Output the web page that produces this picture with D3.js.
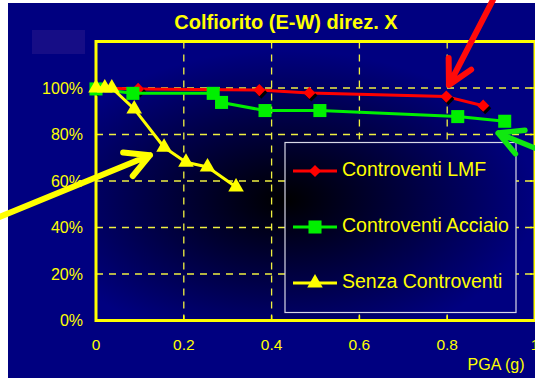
<!DOCTYPE html>
<html><head><meta charset="utf-8">
<script src="https://cdn.jsdelivr.net/npm/d3@7"></script>
<style>html,body{margin:0;padding:0;background:#fff;overflow:hidden}svg{display:block}</style>
</head><body><svg id="c" width="535" height="378"></svg>
<script>
// ---- data ----
const chartTitle = "Colfiorito (E-W) direz. X";
const xAxisTitle = "PGA (g)";
const seriesNames = ["Controventi LMF", "Controventi Acciaio", "Senza Controventi"];
const lmfPGA = [0, 0.096, 0.372, 0.486, 0.798, 0.882];
const lmfVal = [1.0, 0.996, 0.991, 0.979, 0.963, 0.924];
const acciaioPGA = [0, 0.084, 0.267, 0.286, 0.385, 0.51, 0.824, 0.931];
const acciaioVal = [0.996, 0.977, 0.977, 0.938, 0.903, 0.903, 0.877, 0.857];
const senzaPGA = [0, 0.02, 0.036, 0.087, 0.155, 0.205, 0.254, 0.319];
const senzaVal = [1.0, 1.0, 1.0, 0.91, 0.745, 0.681, 0.66, 0.574];
const xTickValues = [0, 0.2, 0.4, 0.6, 0.8, 1];
const xTickLabels = ["0", "0.2", "0.4", "0.6", "0.8", "1"];
const yTickValues = [0, 0.2, 0.4, 0.6, 0.8, 1.0];
const yTickLabels = ["0%", "20%", "40%", "60%", "80%", "100%"];
// annotation arrows (tail -> tip), in data units
const arrowTails = [[0.904, 1.378], [1.011, 0.733], [-0.23, 0.437]];
const arrowTips = [[0.804, 1.013], [0.916, 0.806], [0.123, 0.711]];

const colors = ["#ff0000", "#00f000", "#ffff00"];
const arrowColors = ["#ff0a0a", "#10e810", "#ffff00"];
const YEL = "#ffff00";
const FONT = "'Liberation Sans', Arial, Helvetica, sans-serif";

const svg = d3.select("#c");
const x = d3.scaleLinear().domain([0, 1]).range([96, 535]);
const y = d3.scaleLinear().domain([0, 1.2]).range([320.5, 41.5]);

// gradient
const defs = svg.append("defs");
const grad = defs.append("radialGradient").attr("id", "bg")
  .attr("gradientUnits", "userSpaceOnUse")
  .attr("cx", 0).attr("cy", 0).attr("r", 1)
  .attr("gradientTransform", "translate(285,200) scale(250,150)");
grad.append("stop").attr("offset", 0).attr("stop-color", "#000000");
grad.append("stop").attr("offset", 1).attr("stop-color", "#000080");

// page background
svg.append("rect").attr("x", 0).attr("y", 0).attr("width", 535).attr("height", 378).attr("fill", "#ffffff");
svg.append("rect").attr("x", 8).attr("y", 3).attr("width", 527).attr("height", 375).attr("fill", "#000080");
svg.append("rect").attr("x", 32).attr("y", 30).attr("width", 53).attr("height", 24).attr("fill", "#160d86");

// plot area
const [x0, x1] = x.range();
const [yb, yt] = y.range();
svg.append("rect").attr("x", x0).attr("y", yt).attr("width", x1 - x0).attr("height", yb - yt).attr("fill", "url(#bg)");

// gridlines
const grid = svg.append("g").attr("stroke", "#f0f040").attr("stroke-width", 1.3).attr("stroke-dasharray", "7,6");
grid.selectAll("line.v").data(xTickValues.filter(d => d > 0 && d < 1)).join("line")
  .attr("x1", d => x(d)).attr("x2", d => x(d)).attr("y1", yt).attr("y2", yb);
grid.selectAll("line.h").data(yTickValues.filter(d => d > 0)).join("line")
  .attr("x1", x0).attr("x2", x1).attr("y1", d => y(d)).attr("y2", d => y(d));

// ticks (inward)
const ticks = svg.append("g").attr("stroke", YEL).attr("stroke-width", 1.5);
ticks.selectAll("line.b").data(xTickValues).join("line")
  .attr("x1", d => x(d)).attr("x2", d => x(d)).attr("y1", yb).attr("y2", yb - 5);
ticks.selectAll("line.r").data(yTickValues).join("line")
  .attr("x1", x1).attr("x2", x1 - 5).attr("y1", d => y(d)).attr("y2", d => y(d));

// legend box
const lg = svg.append("g");
lg.append("rect").attr("x", 285).attr("y", 142.5).attr("width", 231).attr("height", 170)
  .attr("fill", "url(#bg)").attr("stroke", "#d8d8e8").attr("stroke-width", 1.2);

// frame
svg.append("rect").attr("x", x0).attr("y", yt).attr("width", x1 - x0).attr("height", yb - yt)
  .attr("fill", "none").attr("stroke", YEL).attr("stroke-width", 3);

// axis labels
svg.append("g").selectAll("text").data(xTickValues).join("text")
  .attr("x", d => x(d)).attr("y", 350).attr("text-anchor", "middle")
  .attr("font-family", FONT).attr("font-size", 15.5).attr("fill", YEL)
  .text((d, i) => xTickLabels[i]);
svg.append("g").selectAll("text").data(yTickValues).join("text")
  .attr("x", 83).attr("y", d => y(d) + 5.5).attr("text-anchor", "end")
  .attr("font-family", FONT).attr("font-size", 16).attr("fill", YEL)
  .text((d, i) => yTickLabels[i]);
svg.append("text").attr("x", 496).attr("y", 369.5).attr("text-anchor", "middle")
  .attr("font-family", FONT).attr("font-size", 16).attr("fill", YEL).text(xAxisTitle);
svg.append("text").attr("x", 286).attr("y", 29).attr("text-anchor", "middle")
  .attr("font-family", FONT).attr("font-size", 20).attr("font-weight", "bold").attr("fill", YEL).text(chartTitle);

// series
const series = [
  { name: seriesNames[0], xs: lmfPGA, ys: lmfVal, color: colors[0], sym: "diamond" },
  { name: seriesNames[1], xs: acciaioPGA, ys: acciaioVal, color: colors[1], sym: "square" },
  { name: seriesNames[2], xs: senzaPGA, ys: senzaVal, color: colors[2], sym: "triangle" }
];
const symGen = {
  diamond: d3.symbol().type(d3.symbolSquare).size(74)(),
  square: d3.symbol().type(d3.symbolSquare).size(170)(),
  triangle: d3.symbol().type(d3.symbolTriangle).size(105)()
};
const rot = s => s === "diamond" ? " rotate(45)" : "";
const line = d3.line().x(d => x(d[0])).y(d => y(d[1]));

series.forEach(s => {
  const pts = s.xs.map((v, i) => [v, s.ys[i]]);
  const g = svg.append("g");
  g.append("path").datum(pts).attr("d", line).attr("fill", "none")
    .attr("stroke", s.color).attr("stroke-width", 3).attr("stroke-linejoin", "round");
  if (s.sym === "diamond") {
    g.selectAll("path.sh").data(pts).join("path").attr("class", "sh")
      .attr("d", symGen[s.sym]).attr("fill", "#000")
      .attr("transform", d => `translate(${x(d[0]) + 2},${y(d[1]) + 2.5})${rot(s.sym)}`);
  }
  g.selectAll("path.mk").data(pts).join("path").attr("class", "mk")
    .attr("d", symGen[s.sym]).attr("fill", s.color)
    .attr("transform", d => `translate(${x(d[0])},${y(d[1])})${rot(s.sym)}`);
});

// legend entries
const legY = [171, 227, 283];
series.forEach((s, i) => {
  lg.append("line").attr("x1", 293).attr("x2", 337).attr("y1", legY[i]).attr("y2", legY[i])
    .attr("stroke", s.color).attr("stroke-width", 3);
  lg.append("path").attr("d", symGen[s.sym]).attr("fill", s.color)
    .attr("transform", `translate(315,${legY[i]})${rot(s.sym)}`);
  lg.append("text").attr("x", 342).attr("y", legY[i] + 5).attr("font-family", FONT)
    .attr("font-size", 19.5).attr("fill", YEL).text(s.name);
});

// annotation arrows
arrowTails.forEach((t, i) => {
  const tip = arrowTips[i];
  const tx = x(t[0]), ty = y(t[1]), px = x(tip[0]), py = y(tip[1]);
  const ang = Math.atan2(ty - py, tx - px);
  const L = 27, a = 28 * Math.PI / 180;
  const arm1 = [px + L * Math.cos(ang + a), py + L * Math.sin(ang + a)];
  const arm2 = [px + L * Math.cos(ang - a), py + L * Math.sin(ang - a)];
  const p = d3.path();
  p.moveTo(tx, ty); p.lineTo(px, py);
  p.moveTo(arm1[0], arm1[1]); p.lineTo(px, py); p.lineTo(arm2[0], arm2[1]);
  svg.append("path").attr("d", p.toString()).attr("fill", "none")
    .attr("stroke", arrowColors[i]).attr("stroke-width", i === 1 ? 5.5 : 6)
    .attr("stroke-linecap", "round").attr("stroke-linejoin", "round");
});
</script>
</body></html>
